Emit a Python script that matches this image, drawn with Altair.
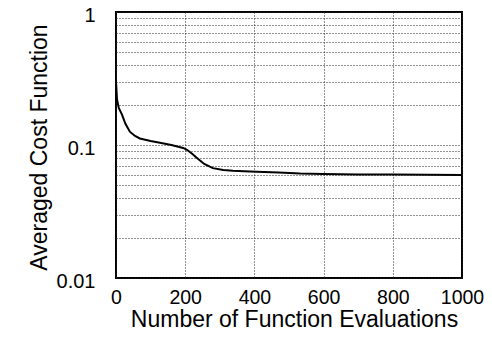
import altair as alt
import pandas as pd

evals = [0, 3, 8, 17, 27, 40, 55, 69, 100, 127, 160, 194, 205, 220, 234, 255, 280, 310, 338, 370, 407, 470, 532, 600, 700, 800, 900, 1000]
cost = [0.30, 0.22, 0.19, 0.17, 0.145, 0.126, 0.117, 0.112, 0.107, 0.104, 0.100, 0.095, 0.092, 0.086, 0.080, 0.072, 0.067, 0.065, 0.064, 0.0635, 0.063, 0.062, 0.061, 0.0605, 0.060, 0.060, 0.0598, 0.0595]

x_ticks = [0, 200, 400, 600, 800, 1000]
y_grid = [0.01, 0.02, 0.03, 0.04, 0.05, 0.06, 0.07, 0.08, 0.09,
          0.1, 0.2, 0.3, 0.4, 0.5, 0.6, 0.7, 0.8, 0.9, 1]

df = pd.DataFrame({"evals": evals, "cost": cost})

FONT = "Liberation Sans"

chart = alt.Chart(df).mark_line(color="black", strokeWidth=2).encode(
    x=alt.X("evals:Q",
            scale=alt.Scale(domain=[0, 1000], nice=False, zero=False),
            axis=alt.Axis(values=x_ticks, title="Number of Function Evaluations",
                          format="d",
                          ticks=False, domain=False, grid=True,
                          gridColor="#222", gridDash=[1, 2], gridWidth=1,
                          labelFont=FONT, labelFontSize=19.5, labelColor="black",
                          labelPadding=10, labelFlush=False,
                          titleFont=FONT, titleFontSize=23, titleFontWeight="normal",
                          titleColor="black", titleX=178, titleY=48,
                          titleBaseline="alphabetic", titleAlign="center")),
    y=alt.Y("cost:Q",
            scale=alt.Scale(type="log", domain=[0.01, 1], nice=False),
            axis=alt.Axis(values=y_grid, title="Averaged Cost Function",
                          ticks=False, domain=False, grid=True,
                          gridColor="#222", gridDash=[1, 2], gridWidth=1,
                          labelExpr="datum.value == 1 ? '1' : (datum.value == 0.1 ? '0.1' : (datum.value == 0.01 ? '0.01' : ''))",
                          labelFont=FONT, labelFontSize=20, labelColor="black",
                          labelPadding=21, labelFlush=False, labelOffset=3,
                          titleFont=FONT, titleFontSize=23, titleFontWeight="normal",
                          titleColor="black", titleX=-77, titleY=135,
                          titleAngle=270, titleBaseline="middle", titleAlign="center")),
).properties(
    width=346, height=266,
    autosize=alt.AutoSizeParams(type="none"),
    padding={"left": 108, "top": 4, "right": 22, "bottom": 53},
).configure_view(stroke="black", strokeWidth=2)

chart.save("out.html", embed_options={"renderer": "svg", "actions": False})
